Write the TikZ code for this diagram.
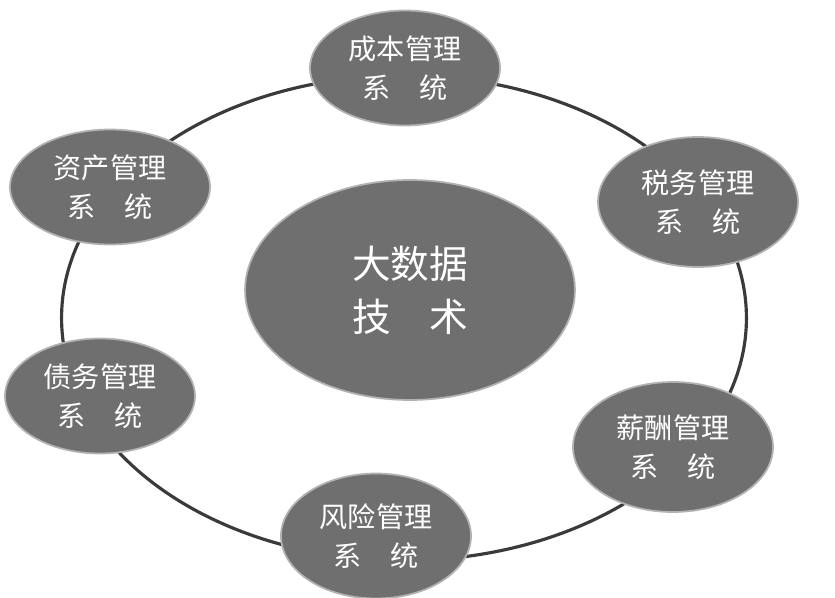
\documentclass[tikz,border=0pt]{standalone}
\usepackage{fontspec}
\newfontfamily\cjk{Noto Sans CJK SC}
\usetikzlibrary{shapes.geometric}
\definecolor{discgray}{HTML}{6F6F6F}
\definecolor{ringgray}{HTML}{3A3A3A}
\begin{document}
\begin{tikzpicture}[x=0.02cm, y=-0.02cm]
        \tikzset{subsys/.style={ellipse, fill=discgray, draw=gray!60, line width=1pt, minimum width=3.8cm, minimum height=2.3cm, text=white, font=\cjk\fontsize{16}{22}\selectfont, align=center, inner sep=0pt}}
        \tikzset{core/.style={ellipse, fill=discgray, draw=gray!60, line width=1pt, minimum width=6.6cm, minimum height=4.4cm, text=white, font=\cjk\fontsize{22}{30}\selectfont, align=center}}

        \useasboundingbox (0,0) rectangle (835,598);
        \node (ring) [draw=ringgray, line width=1.8pt, ellipse, minimum width=13.7cm, minimum height=9.7cm] at (404,318) {};

        \node [core] (bigdata) at (410,290) {大数据\\技\quad 术};
        \node [subsys] (cost) at (405,68) {成本管理\\系\quad 统};
        \node [subsys, minimum width=4cm, minimum height=2.6cm] (tax) at (698,202) {税务管理\\系\quad 统};
        \node [subsys, minimum width=4cm, minimum height=2.6cm] (salary) at (673,447) {薪酬管理\\系\quad 统};
        \node [subsys, minimum width=3.8cm, minimum height=2.5cm] (risk) at (376,536) {风险管理\\系\quad 统};
        \node [subsys] (debt) at (100,396) {债务管理\\系\quad 统};
        \node [subsys, minimum width=4cm] (asset) at (110,187) {资产管理\\系\quad 统};
    \end{tikzpicture}
\end{document}
